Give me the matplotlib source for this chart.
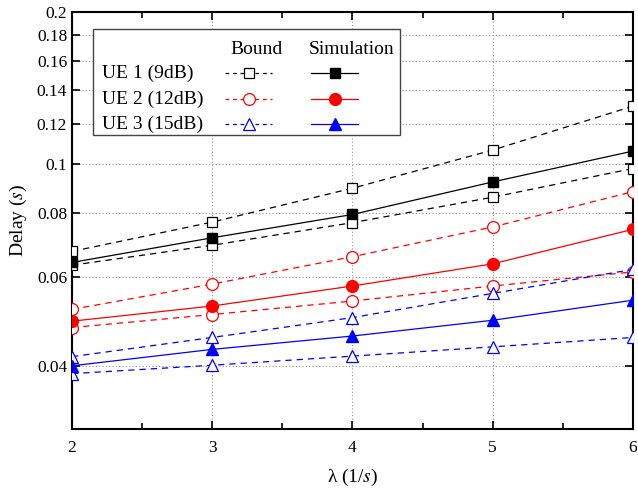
import matplotlib
matplotlib.use("Agg")
import matplotlib.pyplot as plt
from matplotlib.ticker import FixedLocator, NullLocator, FixedFormatter, MultipleLocator
from matplotlib.patches import Rectangle

plt.rcParams['font.family'] = ['Liberation Serif', 'DejaVu Serif']
plt.rcParams['mathtext.fontset'] = 'stix'

lam = [2, 3, 4, 5, 6]

ue_labels = ["UE 1 (9dB)", "UE 2 (12dB)", "UE 3 (15dB)"]
colors = ["black", "red", "blue"]
markers = ["s", "o", "^"]
msizes = [7.5, 8.5, 8.5]

bound_upper = [
    [0.0673, 0.0769, 0.0897, 0.1067, 0.1303],
    [0.0517, 0.0580, 0.0657, 0.0752, 0.0883],
    [0.0417, 0.0455, 0.0498, 0.0556, 0.0620],
]
simulation = [
    [0.0640, 0.0716, 0.0796, 0.0923, 0.1062],
    [0.0490, 0.0525, 0.0575, 0.0636, 0.0744],
    [0.0400, 0.0431, 0.0458, 0.0492, 0.0539],
]
bound_lower = [
    [0.0632, 0.0692, 0.0767, 0.0861, 0.0981],
    [0.0476, 0.0505, 0.0537, 0.0575, 0.0613],
    [0.0386, 0.0401, 0.0418, 0.0436, 0.0455],
]

yticks = [0.04, 0.06, 0.08, 0.1, 0.12, 0.14, 0.16, 0.18, 0.2]
ytick_labels = ["0.04", "0.06", "0.08", "0.1", "0.12", "0.14", "0.16", "0.18", "0.2"]


def main():
    fig = plt.figure(figsize=(6.38, 4.96), dpi=100)
    ax = fig.add_axes([0.113, 0.135, 0.879, 0.841])

    for i in range(3):
        c = colors[i]
        m = markers[i]
        ms = msizes[i]
        ax.plot(lam, bound_upper[i], ls=(0, (5, 4)), color=c, lw=0.9, marker=m,
                ms=ms, mfc="white", mec=c, mew=0.9, zorder=3)
        ax.plot(lam, bound_lower[i], ls=(0, (5, 4)), color=c, lw=0.9, marker=m,
                ms=ms, mfc="white", mec=c, mew=0.9, zorder=3)
        ax.plot(lam, simulation[i], ls="-", color=c, lw=0.9, marker=m,
                ms=ms, mfc=c, mec=c, zorder=4)

    ax.set_yscale("log")
    ax.set_xlim(2, 6)
    ax.set_ylim(0.03, 0.2)
    ax.yaxis.set_major_locator(FixedLocator(yticks))
    ax.yaxis.set_major_formatter(FixedFormatter(ytick_labels))
    ax.yaxis.set_minor_locator(NullLocator())
    ax.xaxis.set_major_locator(MultipleLocator(1))
    ax.xaxis.set_minor_locator(MultipleLocator(0.5))

    ax.grid(True, which="major", ls=(0, (1, 2)), color="#999999", lw=0.8)
    ax.tick_params(which="both", direction="in", top=True, right=True, labelsize=12.5)
    ax.tick_params(which="major", length=6, width=1.2)
    ax.tick_params(which="minor", length=4, width=1.2)
    ax.tick_params(axis="x", pad=8)
    for s in ax.spines.values():
        s.set_linewidth(1.5)

    ax.set_xlabel(r"λ (1/$s$)", fontsize=14, labelpad=8)
    ax.set_ylabel(r"Delay ($s$)", fontsize=14, labelpad=6)

    # table-style legend
    tr = ax.transAxes
    ax.add_patch(Rectangle((0.037, 0.705), 0.548, 0.254, transform=tr, fill=True,
                           fc="white", ec="#444444", lw=1.0, zorder=10))
    ax.text(0.328, 0.91, "Bound", transform=tr, ha="center", va="center", fontsize=14, zorder=11)
    ax.text(0.499, 0.91, "Simulation", transform=tr, ha="center", va="center", fontsize=14, zorder=11)
    row_y = [0.853, 0.791, 0.731]
    for i in range(3):
        c = colors[i]
        m = markers[i]
        ms = msizes[i]
        ax.text(0.053, row_y[i], ue_labels[i], transform=tr, ha="left", va="center",
                fontsize=14, zorder=11)
        ax.plot([0.273, 0.357], [row_y[i], row_y[i]], transform=tr, ls=(0, (3, 3)),
                color=c, lw=0.9, zorder=11, clip_on=False)
        ax.plot([0.315], [row_y[i]], transform=tr, marker=m, ms=ms, mfc="white",
                mec=c, mew=0.9, zorder=12, clip_on=False)
        ax.plot([0.426, 0.510], [row_y[i], row_y[i]], transform=tr, ls="-",
                color=c, lw=0.9, zorder=11, clip_on=False)
        ax.plot([0.469], [row_y[i]], transform=tr, marker=m, ms=ms, mfc=c,
                mec=c, zorder=12, clip_on=False)

    fig.savefig("out.png", dpi=100)


if __name__ == "__main__":
    main()
